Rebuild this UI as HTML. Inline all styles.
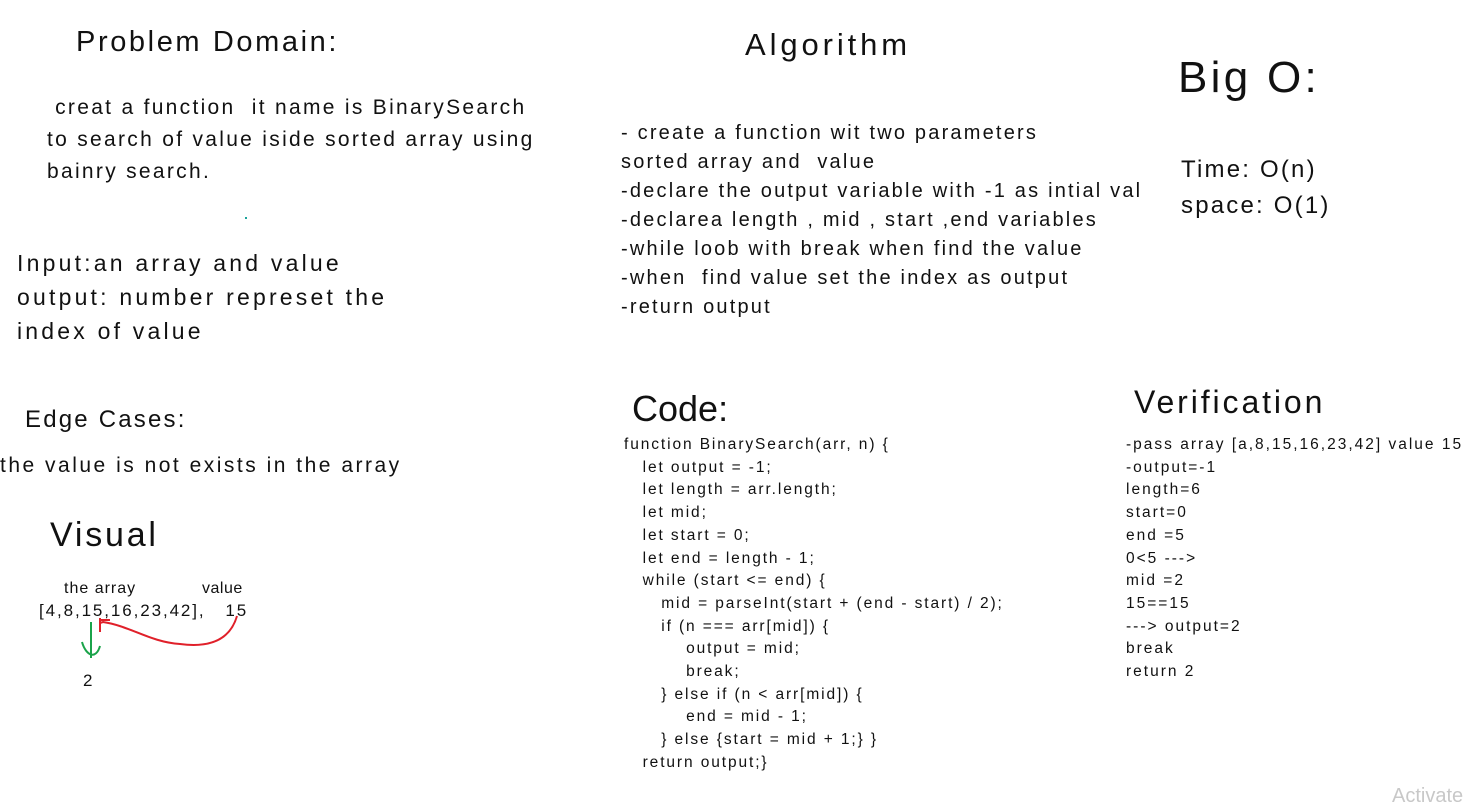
<!DOCTYPE html>
<html><head><style>
body{margin:0;width:1484px;height:805px;background:#fff;position:relative;overflow:hidden;font-family:"Liberation Sans",sans-serif;color:#111}
.t{position:absolute;white-space:pre;}
</style></head><body>
<div class="t" style="left:76px;top:24px;font-size:29px;line-height:36px;letter-spacing:2.6px">Problem Domain:</div>
<div class="t" style="left:47px;top:92px;font-size:21px;line-height:32px;letter-spacing:2.3px"> creat a function  it name is BinarySearch
to search of value iside sorted array using
bainry search.</div>
<div class="t" style="left:17px;top:246px;font-size:23px;line-height:34px;letter-spacing:3.2px">Input:an array and value
output: number represet the
index of value</div>
<div class="t" style="left:25px;top:403px;font-size:24px;line-height:34px;letter-spacing:2.2px">Edge Cases:</div>
<div class="t" style="left:0px;top:451px;font-size:21px;line-height:30px;letter-spacing:2.5px">the value is not exists in the array</div>
<div class="t" style="left:50px;top:514px;font-size:34px;line-height:42px;letter-spacing:2.8px">Visual</div>
<div class="t" style="left:64px;top:579px;font-size:16px;line-height:20px;letter-spacing:1px">the array</div>
<div class="t" style="left:202px;top:579px;font-size:16px;line-height:20px;letter-spacing:0.5px">value</div>
<div class="t" style="left:39px;top:600px;font-size:17px;line-height:22px;letter-spacing:1.9px">[4,8,15,16,23,42],   15</div>
<div class="t" style="left:83px;top:670px;font-size:17px;line-height:22px">2</div>
<svg width="300" height="120" style="position:absolute;left:0;top:590px" viewBox="0 0 300 120">
<path d="M237 26 C230 50 210 58 180 54 C150 52 130 36 103 32 L100 33" stroke="#e0202a" stroke-width="2" fill="none"/>
<path d="M100 28 L100 42 M100 30 L110 30" stroke="#e0202a" stroke-width="2" fill="none"/>
<path d="M91 32 L91 68 M82 52 C86 66 96 70 100 56" stroke="#1aa34a" stroke-width="2" fill="none"/>
</svg>
<div class="t" style="left:745px;top:26px;font-size:31px;line-height:38px;letter-spacing:3.9px">Algorithm</div>
<div class="t" style="left:621px;top:119px;font-size:20px;line-height:29px;letter-spacing:2.2px">- create a function wit two parameters
sorted array and  value
-declare the output variable with -1 as intial val
-declarea length , mid , start ,end variables
-while loob with break when find the value
-when  find value set the index as output
-return output</div>
<div class="t" style="left:1178px;top:52px;font-size:44px;line-height:52px;letter-spacing:3.3px">Big O:</div>
<div class="t" style="left:1181px;top:152px;font-size:24px;line-height:36px;letter-spacing:2.2px">Time: O(n)
space: O(1)</div>
<div class="t" style="left:632px;top:388px;font-size:36px;line-height:42px">Code:</div>
<div class="t" style="left:624px;top:434px;font-size:15.5px;line-height:22.7px;letter-spacing:1.9px">function BinarySearch(arr, n) {
   let output = -1;
   let length = arr.length;
   let mid;
   let start = 0;
   let end = length - 1;
   while (start &lt;= end) {
      mid = parseInt(start + (end - start) / 2);
      if (n === arr[mid]) {
          output = mid;
          break;
      } else if (n &lt; arr[mid]) {
          end = mid - 1;
      } else {start = mid + 1;} }
   return output;}</div>
<div class="t" style="left:1134px;top:382px;font-size:32px;line-height:40px;letter-spacing:2.9px">Verification</div>
<div class="t" style="left:1126px;top:434px;font-size:15.5px;line-height:22.7px;letter-spacing:2px">-pass array [a,8,15,16,23,42] value 15
-output=-1
length=6
start=0
end =5
0&lt;5 ---&gt;
mid =2
15==15
---&gt; output=2
break
return 2</div>
<div class="t" style="left:1392px;top:784px;font-size:20px;line-height:24px;color:#c8c8c8">Activate</div>
<div style="position:absolute;left:245px;top:217px;width:2px;height:2px;background:#1aa39a"></div>
</body></html>
